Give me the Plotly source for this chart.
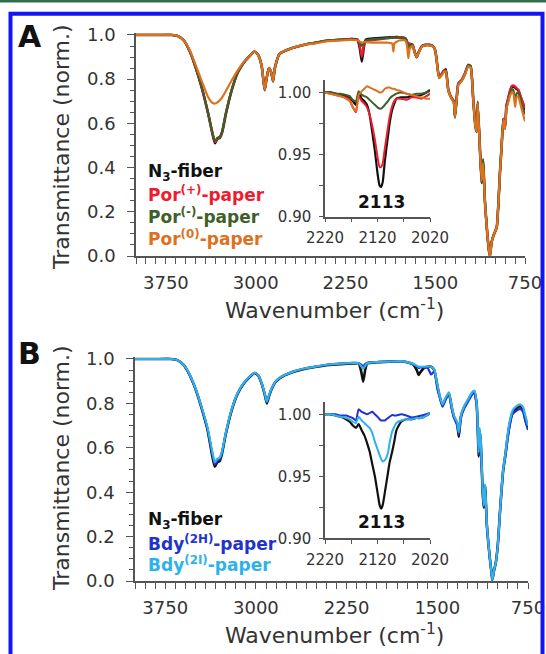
import plotly.graph_objects as go

# ---------------- data ----------------
WN_A = [
    4000, 3800, 3700, 3650, 3600, 3550, 3500, 3450,
    3400, 3360, 3340, 3320, 3300, 3280, 3250, 3200,
    3150, 3100, 3050, 3010, 2980, 2950, 2925, 2910,
    2890, 2870, 2855, 2840, 2800, 2700, 2600, 2500,
    2400, 2300, 2200, 2150, 2130, 2113, 2095, 2080,
    2000, 1900, 1860, 1850, 1840, 1800, 1750, 1735,
    1725, 1712, 1690, 1670, 1655, 1640, 1610, 1580,
    1550, 1520, 1500, 1488, 1468, 1450, 1432, 1412,
    1390, 1362, 1345, 1335, 1320, 1307, 1279, 1251,
    1224, 1204, 1182, 1165, 1153, 1145, 1126, 1112,
    1100, 1085, 1065, 1050, 1042, 1030, 1015, 1000,
    986, 972, 959, 945, 931, 917, 905, 895,
    875, 860, 847, 833, 820, 806, 778, 750,
]
N3_A = [
    1.000, 1.000, 1.000, 0.995, 0.975, 0.925, 0.850, 0.760,
    0.650, 0.550, 0.510, 0.530, 0.535, 0.560, 0.640, 0.750,
    0.830, 0.875, 0.905, 0.925, 0.910, 0.860, 0.750, 0.800,
    0.850, 0.830, 0.790, 0.850, 0.915, 0.940, 0.955, 0.965,
    0.975, 0.978, 0.982, 0.980, 0.940, 0.880, 0.950, 0.978,
    0.985, 0.988, 0.990, 0.990, 0.990, 0.990, 0.985, 0.970,
    0.940, 0.960, 0.955, 0.920, 0.900, 0.920, 0.950, 0.955,
    0.955, 0.950, 0.930, 0.887, 0.810, 0.820, 0.835, 0.845,
    0.750, 0.713, 0.700, 0.630, 0.720, 0.780, 0.796, 0.827,
    0.864, 0.857, 0.706, 0.600, 0.570, 0.690, 0.480, 0.330,
    0.430, 0.250, 0.100, 0.020, 0.000, 0.060, 0.090, 0.110,
    0.130, 0.240, 0.380, 0.500, 0.620, 0.580, 0.680, 0.700,
    0.745, 0.765, 0.766, 0.762, 0.755, 0.750, 0.706, 0.660,
]
POR_PLUS_A = [
    1.000, 1.000, 1.000, 0.995, 0.975, 0.925, 0.850, 0.760,
    0.650, 0.552, 0.515, 0.532, 0.537, 0.562, 0.642, 0.752,
    0.830, 0.875, 0.905, 0.925, 0.910, 0.860, 0.752, 0.800,
    0.850, 0.830, 0.792, 0.850, 0.915, 0.940, 0.955, 0.965,
    0.975, 0.978, 0.982, 0.978, 0.950, 0.900, 0.955, 0.972,
    0.978, 0.985, 0.988, 0.988, 0.988, 0.990, 0.985, 0.970,
    0.945, 0.960, 0.955, 0.920, 0.900, 0.920, 0.950, 0.955,
    0.955, 0.950, 0.930, 0.887, 0.812, 0.820, 0.835, 0.840,
    0.750, 0.713, 0.700, 0.635, 0.720, 0.780, 0.796, 0.827,
    0.860, 0.855, 0.706, 0.600, 0.575, 0.690, 0.480, 0.335,
    0.430, 0.250, 0.100, 0.020, 0.000, 0.060, 0.090, 0.110,
    0.130, 0.240, 0.380, 0.500, 0.620, 0.585, 0.680, 0.705,
    0.750, 0.770, 0.772, 0.768, 0.760, 0.752, 0.710, 0.670,
]
POR_MINUS_A = [
    1.000, 1.000, 1.000, 0.995, 0.975, 0.925, 0.852, 0.762,
    0.655, 0.555, 0.520, 0.535, 0.540, 0.565, 0.645, 0.752,
    0.830, 0.875, 0.905, 0.925, 0.910, 0.860, 0.752, 0.800,
    0.850, 0.830, 0.792, 0.850, 0.915, 0.940, 0.955, 0.965,
    0.975, 0.978, 0.980, 0.978, 0.965, 0.950, 0.965, 0.975,
    0.982, 0.985, 0.988, 0.988, 0.988, 0.988, 0.983, 0.965,
    0.935, 0.955, 0.952, 0.918, 0.898, 0.918, 0.948, 0.953,
    0.953, 0.948, 0.928, 0.885, 0.805, 0.815, 0.830, 0.838,
    0.745, 0.710, 0.695, 0.625, 0.715, 0.775, 0.792, 0.822,
    0.865, 0.860, 0.700, 0.580, 0.560, 0.700, 0.470, 0.330,
    0.440, 0.250, 0.100, 0.020, 0.000, 0.060, 0.090, 0.110,
    0.130, 0.240, 0.380, 0.500, 0.615, 0.575, 0.670, 0.690,
    0.735, 0.755, 0.750, 0.700, 0.735, 0.740, 0.690, 0.640,
]
POR_ZERO_A = [
    1.000, 1.000, 1.000, 0.995, 0.975, 0.930, 0.862, 0.790,
    0.722, 0.692, 0.690, 0.695, 0.705, 0.718, 0.745, 0.795,
    0.840, 0.877, 0.905, 0.925, 0.910, 0.860, 0.752, 0.800,
    0.850, 0.830, 0.792, 0.850, 0.915, 0.940, 0.955, 0.962,
    0.972, 0.975, 0.978, 0.976, 0.970, 0.965, 0.968, 0.968,
    0.965, 0.965, 0.962, 0.925, 0.962, 0.975, 0.975, 0.950,
    0.895, 0.940, 0.950, 0.918, 0.900, 0.918, 0.948, 0.953,
    0.953, 0.948, 0.928, 0.885, 0.805, 0.815, 0.830, 0.835,
    0.745, 0.710, 0.695, 0.630, 0.715, 0.775, 0.792, 0.822,
    0.858, 0.852, 0.700, 0.590, 0.565, 0.690, 0.475, 0.340,
    0.420, 0.250, 0.100, 0.020, 0.000, 0.060, 0.090, 0.110,
    0.130, 0.240, 0.380, 0.500, 0.615, 0.575, 0.670, 0.685,
    0.725, 0.740, 0.735, 0.675, 0.720, 0.720, 0.665, 0.610,
]

WN_B = [
    4000, 3800, 3700, 3650, 3600, 3550, 3500, 3450,
    3400, 3360, 3340, 3320, 3300, 3280, 3250, 3200,
    3150, 3100, 3050, 3010, 2980, 2950, 2925, 2910,
    2890, 2870, 2840, 2800, 2700, 2600, 2500, 2400,
    2300, 2200, 2150, 2130, 2113, 2095, 2080, 2000,
    1900, 1800, 1750, 1700, 1670, 1655, 1640, 1610,
    1580, 1550, 1525, 1498, 1480, 1457, 1432, 1404,
    1380, 1363, 1336, 1322, 1305, 1280, 1239, 1212,
    1195, 1175, 1165, 1158, 1150, 1140, 1125, 1115,
    1105, 1090, 1065, 1050, 1045, 1030, 1017, 1000,
    983, 970, 955, 937, 923, 904, 880, 850,
    813, 790, 772, 750,
]
N3_B = [
    1.000, 1.000, 1.000, 0.995, 0.975, 0.930, 0.865, 0.780,
    0.680, 0.560, 0.515, 0.535, 0.540, 0.575, 0.660, 0.770,
    0.845, 0.890, 0.920, 0.937, 0.925, 0.885, 0.835, 0.800,
    0.835, 0.865, 0.895, 0.915, 0.940, 0.955, 0.965, 0.973,
    0.977, 0.980, 0.980, 0.945, 0.898, 0.955, 0.980, 0.985,
    0.988, 0.990, 0.985, 0.975, 0.950, 0.928, 0.940, 0.960,
    0.965, 0.965, 0.950, 0.875, 0.830, 0.790, 0.820, 0.845,
    0.780, 0.740, 0.710, 0.650, 0.740, 0.780, 0.820, 0.845,
    0.855, 0.800, 0.680, 0.560, 0.680, 0.620, 0.400, 0.330,
    0.430, 0.250, 0.100, 0.030, 0.005, 0.050, 0.080, 0.160,
    0.300, 0.400, 0.500, 0.570, 0.630, 0.700, 0.755, 0.775,
    0.787, 0.770, 0.730, 0.690,
]
BDY_2H_B = [
    1.000, 1.000, 1.000, 0.995, 0.975, 0.930, 0.866, 0.782,
    0.685, 0.570, 0.525, 0.540, 0.548, 0.580, 0.662, 0.772,
    0.846, 0.890, 0.920, 0.937, 0.925, 0.885, 0.838, 0.805,
    0.838, 0.866, 0.895, 0.915, 0.942, 0.957, 0.967, 0.975,
    0.979, 0.982, 0.982, 0.975, 0.968, 0.978, 0.983, 0.986,
    0.988, 0.990, 0.986, 0.978, 0.965, 0.960, 0.962, 0.962,
    0.960, 0.930, 0.945, 0.860, 0.830, 0.785, 0.815, 0.840,
    0.775, 0.738, 0.700, 0.660, 0.735, 0.775, 0.815, 0.840,
    0.850, 0.795, 0.670, 0.570, 0.670, 0.610, 0.400, 0.330,
    0.425, 0.250, 0.100, 0.030, 0.005, 0.050, 0.080, 0.160,
    0.300, 0.400, 0.500, 0.560, 0.620, 0.690, 0.750, 0.765,
    0.775, 0.760, 0.720, 0.680,
]
BDY_2I_B = [
    1.000, 1.000, 1.000, 0.995, 0.975, 0.932, 0.868, 0.785,
    0.690, 0.580, 0.535, 0.550, 0.555, 0.585, 0.665, 0.775,
    0.848, 0.892, 0.922, 0.938, 0.926, 0.887, 0.840, 0.808,
    0.840, 0.868, 0.897, 0.917, 0.942, 0.957, 0.967, 0.975,
    0.979, 0.982, 0.981, 0.968, 0.955, 0.970, 0.981, 0.986,
    0.988, 0.990, 0.986, 0.978, 0.970, 0.965, 0.965, 0.965,
    0.966, 0.965, 0.952, 0.880, 0.835, 0.795, 0.825, 0.850,
    0.785, 0.745, 0.715, 0.670, 0.745, 0.785, 0.825, 0.850,
    0.858, 0.805, 0.690, 0.580, 0.690, 0.630, 0.410, 0.340,
    0.435, 0.255, 0.100, 0.030, 0.005, 0.050, 0.080, 0.160,
    0.300, 0.405, 0.505, 0.575, 0.640, 0.710, 0.765, 0.785,
    0.795, 0.782, 0.745, 0.700,
]

WN_INSET = [
    2220, 2210, 2200, 2190, 2180, 2173, 2167, 2161,
    2156, 2150, 2145, 2140, 2135, 2130, 2125, 2120,
    2116, 2113, 2110, 2106, 2100, 2097, 2092, 2088,
    2084, 2075, 2065, 2055, 2046, 2037, 2027, 2020,
]
N3_A_INSET = [
    1.000, 1.000, 0.999, 0.998, 0.997, 0.996, 0.993, 0.990,
    0.999, 0.995, 0.993, 0.990, 0.982, 0.968, 0.953, 0.935,
    0.925, 0.924, 0.928, 0.945, 0.965, 0.975, 0.986, 0.991,
    0.995, 0.996, 0.996, 0.997, 0.997, 0.998, 1.000, 1.002,
]
POR_PLUS_A_INSET = [
    1.000, 0.999, 0.998, 0.997, 0.996, 0.994, 0.988, 0.984,
    0.997, 0.993, 0.991, 0.988, 0.982, 0.973, 0.962, 0.948,
    0.940, 0.940, 0.943, 0.955, 0.972, 0.980, 0.989, 0.993,
    0.995, 0.995, 0.994, 0.996, 0.996, 0.995, 0.997, 0.999,
]
POR_MINUS_A_INSET = [
    1.000, 1.000, 0.999, 0.999, 0.998, 0.997, 0.994, 0.993,
    1.001, 0.998, 0.997, 0.996, 0.994, 0.992, 0.990, 0.988,
    0.987, 0.987, 0.988, 0.990, 0.993, 0.995, 0.997, 0.998,
    0.999, 1.000, 0.999, 0.998, 0.999, 0.999, 1.000, 1.001,
]
POR_ZERO_A_INSET = [
    1.000, 0.999, 0.998, 0.997, 0.995, 0.993, 0.988, 0.985,
    0.998, 1.001, 1.003, 1.005, 1.004, 1.003, 1.002, 1.001,
    1.000, 1.000, 1.001, 1.003, 1.004, 1.004, 1.003, 1.003,
    1.002, 1.001, 0.999, 0.998, 0.997, 0.996, 0.995, 0.995,
]
N3_B_INSET = [
    1.000, 1.000, 0.999, 0.998, 0.996, 0.994, 0.991, 0.989,
    0.992, 0.987, 0.983, 0.977, 0.970, 0.960, 0.950, 0.937,
    0.927, 0.924, 0.927, 0.937, 0.953, 0.961, 0.970, 0.978,
    0.987, 0.994, 0.996, 0.996, 0.997, 0.997, 0.999, 1.001,
]
BDY_2H_B_INSET = [
    1.000, 1.000, 1.000, 0.999, 0.999, 0.998, 0.997, 0.995,
    1.004, 1.002, 1.001, 1.000, 1.001, 1.002, 1.000, 0.998,
    0.996, 0.995, 0.995, 0.995, 0.997, 0.998, 0.9995, 0.999,
    0.999, 1.000, 0.999, 0.9975, 0.998, 0.999, 1.000, 1.001,
]
BDY_2I_B_INSET = [
    1.000, 1.000, 0.999, 0.998, 0.997, 0.996, 0.994, 0.993,
    0.998, 0.995, 0.993, 0.991, 0.989, 0.985, 0.978, 0.972,
    0.967, 0.964, 0.962, 0.963, 0.969, 0.977, 0.986, 0.990,
    0.993, 0.995, 0.996, 0.996, 0.997, 0.997, 0.999, 1.001,
]

X_TICKS_MAIN = [3750, 3000, 2250, 1500, 750]
X_TICKS_INSET = [2220, 2120, 2020]
Y_TICKS_INSET = [0.90, 0.95, 1.00]

LEGEND_A = ["N<sub>3</sub>-fiber", "Por<sup>(+)</sup>-paper",
            "Por<sup>(-)</sup>-paper", "Por<sup>(0)</sup>-paper"]
LEGEND_B = ["N<sub>3</sub>-fiber", "Bdy<sup>(2H)</sup>-paper",
            "Bdy<sup>(2I)</sup>-paper"]

# ---------------- style ----------------
W, H = 546, 654
BLACK = "#111111"
RED = "#ee1c2e"
GREEN = "#3f5f2a"
ORANGE = "#dc721e"
BLUE = "#2233cc"
LBLUE = "#2fb2ea"
FONT = "DejaVu Sans"
AX = "#555555"
TXT = "#333333"


def px(x):
    return x / W


def py(y):
    return 1 - y / H


fig = go.Figure()


def add(x, y, color, xa, ya, width):
    fig.add_trace(go.Scatter(x=x, y=y, mode="lines", xaxis=xa, yaxis=ya,
                             line=dict(color=color, width=width, shape="spline", smoothing=0.5),
                             showlegend=False, hoverinfo="skip"))


# Panel A
add(WN_A, N3_A, BLACK, "x", "y", 2.6)
add(WN_A, POR_PLUS_A, RED, "x", "y", 2.2)
add(WN_A, POR_MINUS_A, GREEN, "x", "y", 2.2)
add(WN_A, POR_ZERO_A, ORANGE, "x", "y", 2.2)
add(WN_INSET, N3_A_INSET, BLACK, "x2", "y2", 2.2)
add(WN_INSET, POR_PLUS_A_INSET, RED, "x2", "y2", 2.0)
add(WN_INSET, POR_MINUS_A_INSET, GREEN, "x2", "y2", 2.0)
add(WN_INSET, POR_ZERO_A_INSET, ORANGE, "x2", "y2", 2.0)
# Panel B
add(WN_B, N3_B, BLACK, "x3", "y3", 2.6)
add(WN_B, BDY_2H_B, BLUE, "x3", "y3", 2.2)
add(WN_B, BDY_2I_B, LBLUE, "x3", "y3", 2.2)
add(WN_INSET, N3_B_INSET, BLACK, "x4", "y4", 2.2)
add(WN_INSET, BDY_2H_B_INSET, BLUE, "x4", "y4", 2.0)
add(WN_INSET, BDY_2I_B_INSET, LBLUE, "x4", "y4", 2.0)

common = dict(showgrid=False, zeroline=False, showline=True, linecolor=AX, linewidth=1.5,
              ticks="outside", tickcolor=AX, tickwidth=1.3, automargin=False,
              ticklabeloverflow="allow")

main_x = dict(common, range=[4000, 750], tickmode="array", tickvals=X_TICKS_MAIN, ticklen=6,
              tickfont=dict(family=FONT, size=18, color=TXT), ticklabelstandoff=4,
              minor=dict(tick0=750, dtick=750 / 9, ticks="outside", ticklen=6,
                         tickcolor=AX, tickwidth=1.3))
main_y = dict(common, range=[0, 1.008], tick0=0, dtick=0.2, tickformat=".1f", ticklen=7,
              tickfont=dict(family=FONT, size=18, color=TXT), ticklabelstandoff=8,
              minor=dict(tick0=0, dtick=0.05, ticks="outside", ticklen=4,
                         tickcolor=AX, tickwidth=1.3))
inset_x = dict(common, range=[2220, 2020], tickmode="array", tickvals=X_TICKS_INSET, ticklen=4,
               tickfont=dict(family=FONT, size=15, color=TXT), ticklabelstandoff=3,
               minor=dict(tick0=2020, dtick=50, ticks="outside", ticklen=4,
                          tickcolor=AX, tickwidth=1.3))
inset_y = dict(common, range=[0.9, 1.01], tickmode="array", tickvals=Y_TICKS_INSET,
               tickformat=".2f", ticklen=4,
               tickfont=dict(family=FONT, size=15, color=TXT), ticklabelstandoff=5,
               minor=dict(tick0=0.9, dtick=0.025, ticks="outside", ticklen=4,
                          tickcolor=AX, tickwidth=1.3))

fig.update_layout(
    width=W, height=H, margin=dict(l=0, r=0, t=0, b=0, autoexpand=False),
    paper_bgcolor="white", plot_bgcolor="rgba(0,0,0,0)",
    xaxis=dict(main_x, domain=[px(136), px(525)], anchor="y"),
    yaxis=dict(main_y, domain=[py(256), py(33.2)], anchor="x"),
    xaxis2=dict(inset_x, domain=[px(325), px(430)], anchor="y2"),
    yaxis2=dict(inset_y, domain=[py(216.7), py(80)], anchor="x2"),
    xaxis3=dict(main_x, domain=[px(135), px(528)], anchor="y3"),
    yaxis3=dict(main_y, domain=[py(581), py(357.2)], anchor="x3"),
    xaxis4=dict(inset_x, domain=[px(325), px(430)], anchor="y4"),
    yaxis4=dict(inset_y, domain=[py(538.3), py(401.9)], anchor="x4"),
)

ann = []


def text(x, y, s, size, color=BLACK, bold=False, xanchor="center", angle=0):
    ann.append(dict(x=px(x), y=py(y), xref="paper", yref="paper", text=("<b>%s</b>" % s) if bold else s,
                    showarrow=False, xanchor=xanchor, yanchor="middle", textangle=angle,
                    font=dict(family=FONT, size=size, color=color)))


text(30, 36, "A", 30, BLACK, True)
text(29, 353, "B", 30, BLACK, True)
text(61, 147, "Transmittance (norm.)", 22, TXT, angle=-90)
text(61, 468, "Transmittance (norm.)", 22, TXT, angle=-90)
text(334, 309, "Wavenumber (cm<sup>-1</sup>)", 22, TXT)
text(334, 634, "Wavenumber (cm<sup>-1</sup>)", 22, TXT)
text(381, 202, "2113", 17, BLACK, True)
text(381, 522, "2113", 17, BLACK, True)
for s, c, yy in zip(LEGEND_A, [BLACK, RED, GREEN, ORANGE], [172, 194, 216, 238]):
    text(146, yy, s, 17, c, True, xanchor="left")
for s, c, yy in zip(LEGEND_B, [BLACK, BLUE, LBLUE], [520, 543, 564]):
    text(146, yy, s, 17, c, True, xanchor="left")

fig.update_layout(annotations=ann)

fig.update_layout(shapes=[
    dict(type="rect", xref="paper", yref="paper", x0=0, x1=1, y0=py(2.5), y1=1,
         line=dict(width=0), fillcolor="#2f6e48", layer="below"),
    dict(type="rect", xref="paper", yref="paper", x0=px(10.5), x1=px(542.5), y0=-0.05, y1=py(13.7),
         line=dict(color="#1414f5", width=4), fillcolor="rgba(0,0,0,0)", layer="above"),
])

fig.write_html("out.html")
